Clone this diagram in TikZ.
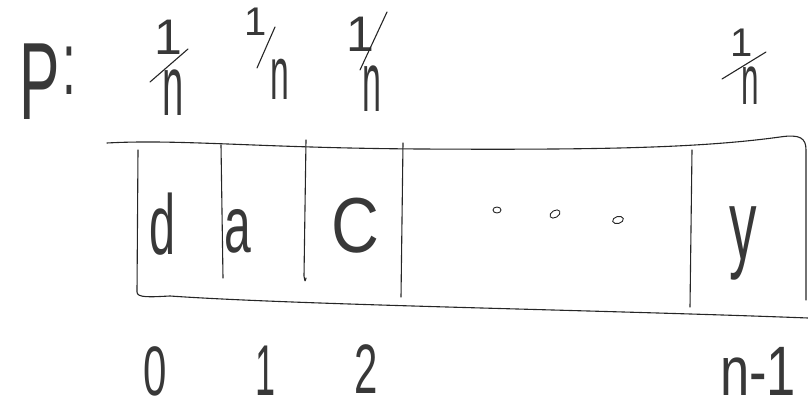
\documentclass[tikz,border=0pt]{standalone}
\usepackage{graphicx}
\usepackage{fontspec}
\usetikzlibrary{shapes.geometric}
\newfontfamily\hand{Liberation Sans}
\newcommand\hsq[2]{\scalebox{#1}[1]{#2}}
% one-over-n stack: #1 num size, #2 num shift (x2), #3 num raise, #4 den size, #5 den xscale
\newcommand\frn[5]{%
  \makebox[0pt][c]{\fontsize{#4}{#4}\selectfont\hsq{#5}{n}}%
  \makebox[0pt][c]{\kern#2\raisebox{#3}{\fontsize{#1}{#1}\selectfont 1}}}
\begin{document}
\begin{tikzpicture}[x=1pt,y=-1pt,
  pen/.style={line width=1.1pt,line cap=round,line join=round,black!85},
  txt/.style={text=black!78,inner sep=0pt,anchor=base,font=\hand},
  dotmark/.style={ellipse,draw=black!85,line width=0.9pt,minimum width=11pt,minimum height=7pt,inner sep=0pt}]
\useasboundingbox (0,0) rectangle (808,411);
% label P:
\node[txt,font=\fontsize{110}{114}\hand] (plabel) at (48,120)
  {\hsq{0.55}{P\kern4pt\raisebox{25pt}{\fontsize{90}{90}\selectfont :}}};
% probabilities 1/n
\node[txt] (f0) at (173,116) {\frn{50pt}{-10pt}{61pt}{85pt}{0.45}};
\draw[pen] (150,82) -- (188,49);
\node[txt] (f1) at (280,100) {\frn{40pt}{-48pt}{64pt}{75pt}{0.45}};
\draw[pen] (257,68) -- (275,27);
\node[txt] (f2) at (372,112) {\frn{50pt}{-24pt}{60pt}{85pt}{0.4}};
\draw[pen] (360,70) -- (387,12);
\node[txt] (f3) at (750,105) {\frn{40pt}{-16pt}{48pt}{70pt}{0.45}};
\draw[pen] (722,79) -- (766,52);
% array outline
\draw[pen] (107,143) .. controls (180,139) and (260,148) .. (420,149)
  .. controls (600,150) and (700,148) .. (780,137) .. controls (800,134) and (806,138) .. (806,150)
  -- (806,300);
\draw[pen] (138,150) -- (137,292) .. controls (137,298) and (150,297) .. (170,296)
  .. controls (300,305) and (600,310) .. (808,318);
% dividers
\draw[pen] (221,145) -- (223,278);
\draw[pen] (306,140) -- (304,276) .. controls (305,282) .. (306,278);
\draw[pen] (403,143) -- (401,297);
\draw[pen] (692,150) -- (690,307);
% cell contents
\node[txt,font=\fontsize{85}{88}\hand] (c0) at (162,255) {\hsq{0.55}{d}};
\node[txt,font=\fontsize{80}{84}\hand] (c1) at (238,253) {\hsq{0.6}{a}};
\node[txt,font=\fontsize{78}{82}\hand] (c2) at (355,253) {\hsq{0.85}{C}};
\node[dotmark,minimum width=8pt,minimum height=6pt] (dt1) at (497,210) {};
\node[dotmark,rotate=30] (dt2) at (555,214) {};
\node[dotmark,rotate=15] (dt3) at (618,220) {};
\node[txt,font=\fontsize{100}{104}\hand] (c3) at (743,260) {\hsq{0.55}{y}};
% indices
\node[txt,font=\fontsize{70}{74}\hand] (i0) at (155,395) {\hsq{0.6}{0}};
\node[txt,font=\fontsize{72}{76}\hand] (i1) at (266,395) {\hsq{0.5}{1}};
\node[txt,font=\fontsize{70}{74}\hand] (i2) at (366,393) {\hsq{0.6}{2}};
\node[txt,font=\fontsize{70}{74}\hand,anchor=base west] (i3) at (720,395) {\hsq{0.75}{n-1}};
\end{tikzpicture}
\end{document}
